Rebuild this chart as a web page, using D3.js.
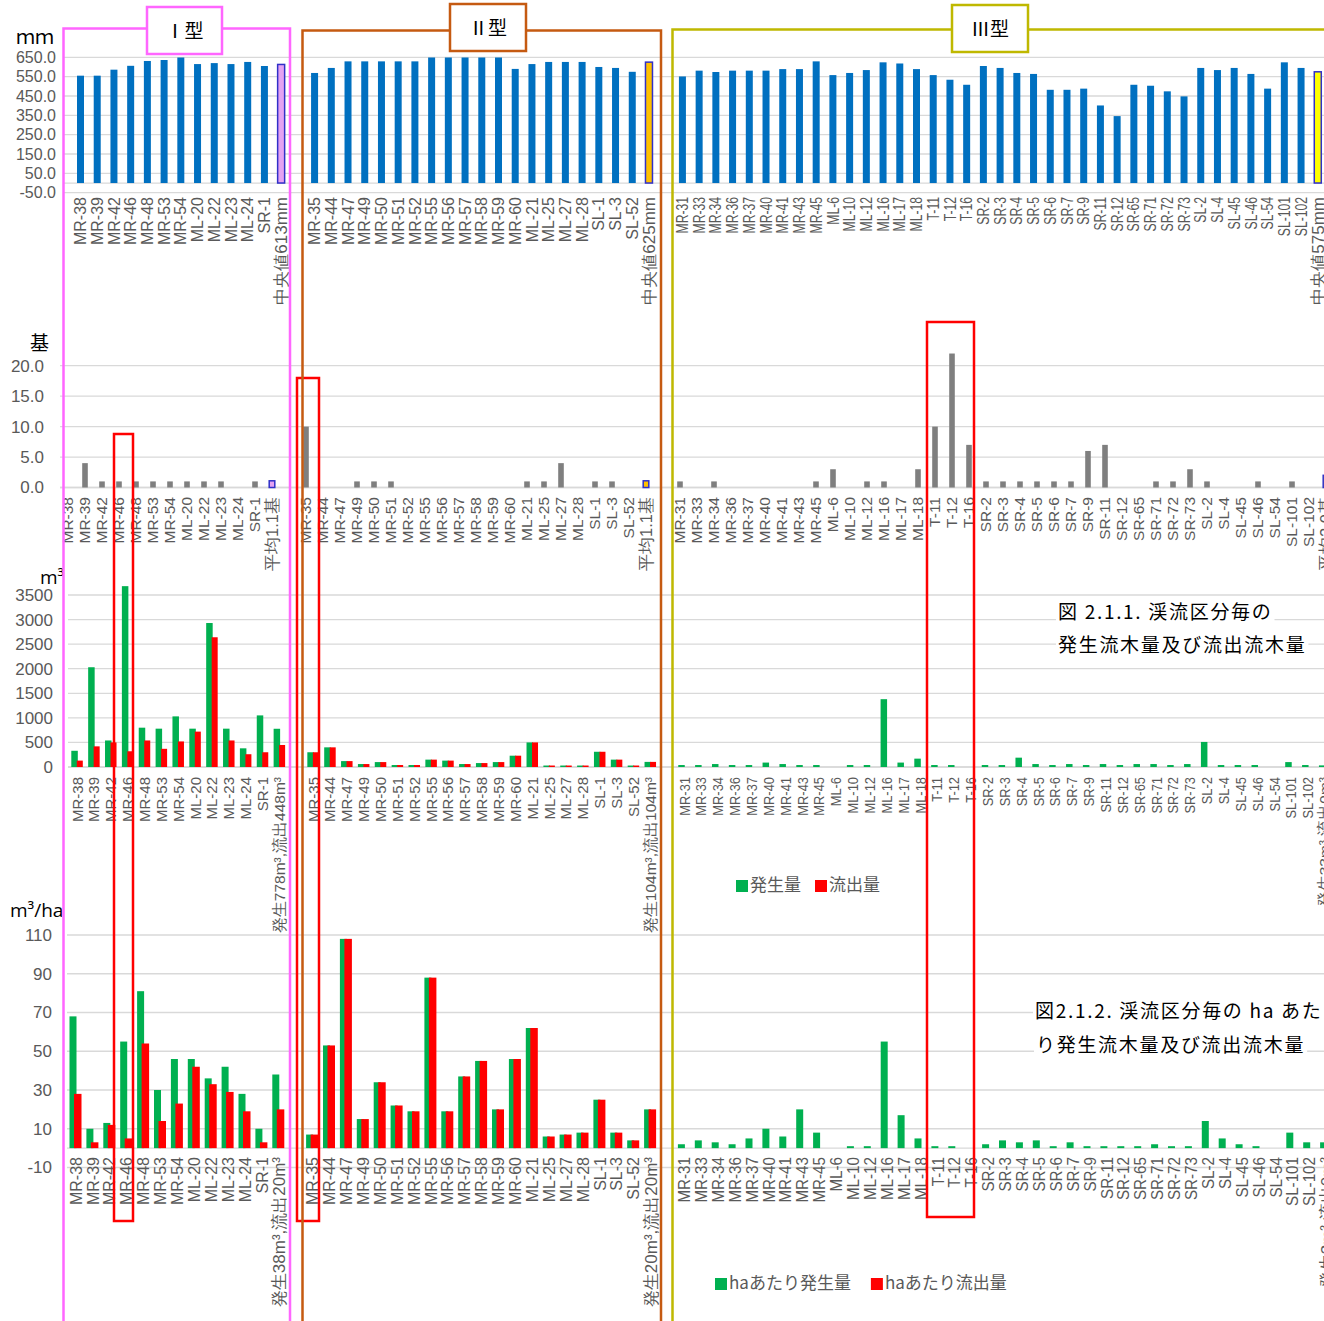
<!DOCTYPE html>
<html>
<head>
<meta charset="utf-8">
<script src="https://cdn.jsdelivr.net/npm/d3@7"></script>
<style>
  body { margin: 0; background: #fff; }
  svg { display: block; font-family: "Open Sans", "Noto Sans CJK JP", sans-serif; }
</style>
</head>
<body>
<div id="chart"></div>
<script>
// ---- categories (three stream types) ----
const typeI = ["MR-38", "MR-39", "MR-42", "MR-46", "MR-48", "MR-53", "MR-54", "ML-20", "ML-22", "ML-23", "ML-24", "SR-1"];
const typeII = ["MR-35", "MR-44", "MR-47", "MR-49", "MR-50", "MR-51", "MR-52", "MR-55", "MR-56", "MR-57", "MR-58", "MR-59", "MR-60",
  "ML-21", "ML-25", "ML-27", "ML-28", "SL-1", "SL-3", "SL-52"];
const typeIII = ["MR-31", "MR-33", "MR-34", "MR-36", "MR-37", "MR-40", "MR-41", "MR-43", "MR-45", "ML-6", "ML-10", "ML-12", "ML-16",
  "ML-17", "ML-18", "T-11", "T-12", "T-16", "SR-2", "SR-3", "SR-4", "SR-5", "SR-6", "SR-7", "SR-9", "SR-11", "SR-12", "SR-65",
  "SR-71", "SR-72", "SR-73", "SL-2", "SL-4", "SL-45", "SL-46", "SL-54", "SL-101", "SL-102"];

// ---- rainfall (mm) ----
const rainI = [555, 555, 586, 606, 631, 636, 649, 615, 620, 615, 626, 605];
const rainII = [569, 595, 629, 629, 629, 629, 629, 649, 649, 649, 649, 649, 590, 615, 626, 626, 626, 600, 595, 575];
const rainIII = [551, 581, 574, 581, 581, 581, 589, 589, 629, 558, 569, 584, 624, 618, 589, 558, 534, 508, 605, 595,
  569, 564, 482, 482, 488, 401, 346, 508, 503, 474, 448, 595, 584, 595, 564, 488, 624, 595];
const rainMedian = [613, 625, 575];
const rainLabels = ["中央値613mm", "中央値625mm", "中央値575mm"];
const rainTicks = [-50, 50, 150, 250, 350, 450, 550, 650];

// ---- count (基) ----
const countI = [0, 4, 1, 1, 1, 1, 1, 1, 1, 1, 0, 1];
const countII = [10, 0, 0, 1, 1, 1, 0, 0, 0, 0, 0, 0, 0, 1, 1, 4, 0, 1, 1, 0];
const countIII = [1, 0, 1, 0, 0, 0, 0, 0, 1, 3, 0, 1, 1, 0, 3, 10, 22, 7, 1, 1,
  1, 1, 1, 1, 6, 7, 0, 0, 1, 1, 3, 1, 0, 0, 1, 0, 1, 0];
const countAvg = [1.1, 1.1, 2.0];
const countLabels = ["平均1.1基", "平均1.1基", "平均2.0基"];
const countTicks = [0, 5, 10, 15, 20];

// ---- woody debris volume (m3): generated / discharged ----
const genI = [330, 2030, 540, 3680, 800, 780, 1030, 780, 2930, 780, 380, 1050];
const outI = [130, 420, 500, 320, 540, 370, 520, 720, 2640, 540, 260, 300];
const genII = [300, 400, 120, 60, 100, 40, 40, 150, 130, 60, 80, 100, 230, 500, 30, 30, 30, 310, 150, 30];
const outII = [300, 400, 120, 60, 100, 40, 40, 150, 130, 60, 80, 100, 230, 500, 30, 30, 30, 310, 150, 30];
const genIII = [40, 40, 60, 40, 40, 90, 60, 40, 40, 0, 40, 40, 1380, 90, 170, 40, 40, 0, 40, 40,
  190, 60, 40, 60, 40, 60, 40, 60, 60, 40, 60, 510, 40, 40, 40, 0, 100, 40];
const outIII = genIII.map(() => 0);
const volGen = [778, 104, 33];
const volOut = [448, 104, 0];
const volLabels = ["発生778m³,流出448m³", "発生104m³,流出104m³", "発生33m³,流出0m³"];
const volTicks = [0, 500, 1000, 1500, 2000, 2500, 3000, 3500];

// ---- per hectare (m3/ha) ----
const haGenI = [68, 10, 13, 55, 81, 30, 46, 46, 36, 42, 28, 10];
const haOutI = [28, 3, 12, 5, 54, 14, 23, 42, 33, 29, 19, 3];
const haGenII = [7, 53, 108, 15, 34, 22, 19, 88, 19, 37, 45, 20, 46, 62, 6, 7, 8, 25, 8, 4];
const haOutII = [7, 53, 108, 15, 34, 22, 19, 88, 19, 37, 45, 20, 46, 62, 6, 7, 8, 25, 8, 4];
const haGenIII = [2, 4, 3, 2, 5, 10, 6, 20, 8, 0, 1, 1, 55, 17, 5, 1, 1, 0, 2, 4,
  3, 4, 1, 3, 1, 1, 1, 1, 2, 1, 1, 14, 5, 2, 1, 0, 8, 3];
const haOutIII = haGenIII.map(() => 0);
const haGen = [38, 20, 3];
const haOut = [20, 20, 0];
const haLabels = ["発生38m³,流出20m³", "発生20m³,流出20m³", "発生3m³,流出0m³"];
const haTicks = [-10, 10, 30, 50, 70, 90, 110];

const W = 1324, H = 1321;
const svg = d3.select("#chart").append("svg").attr("width", W).attr("height", H);

// slots: three groups, one summary slot each, one empty slot between groups
const groups = [typeI, typeII, typeIII];
const slots = [];
groups.forEach((cats, g) => {
  cats.forEach((c, i) => slots.push({ key: g + ":" + c, g, i, sum: false }));
  slots.push({ key: g + ":sum", g, i: -1, sum: true });
  if (g < 2) slots.push({ key: "gap" + g, g: -1 });
});
const keys = slots.map(s => s.key);
const slotOf = k => slots.find(d => d.key === k);
const sumFill = ["#e4a2f2", "#ffc000", "#ffff00"];

// plain hyphen for negative tick values
const fix1 = d => d.toFixed(1);
const int0 = d => String(d);

function drawPanel(o) {
  const x = d3.scaleBand().domain(keys)
    .range([o.x0 - o.pitch / 2, o.x0 - o.pitch / 2 + keys.length * o.pitch]);
  const y = d3.scaleLinear().domain(o.domain).range(o.range);
  const cx = k => x(k) + x.bandwidth() / 2;
  const g = svg.append("g");

  // gridlines + zero line
  g.selectAll("line.grid").data(o.ticks.concat([0])).join("line")
    .attr("x1", o.gx).attr("x2", W)
    .attr("y1", d => y(d)).attr("y2", d => y(d))
    .attr("stroke", "#d9d9d9").attr("stroke-width", 1.3);

  // y axis
  const ya = g.append("g").attr("transform", `translate(${o.ax},0)`)
    .call(d3.axisLeft(y).tickValues(o.ticks).tickFormat(o.fmt).tickSize(0).tickPadding(0));
  ya.select(".domain").remove();
  ya.selectAll("text").attr("fill", "#595959").style("font-size", o.yFont + "px");

  // category labels
  const label = k => {
    const s = slotOf(k);
    if (s.g < 0) return "";
    return s.sum ? o.sumLabels[s.g] : groups[s.g][s.i];
  };
  const xa = g.append("g").attr("transform", `translate(0,${o.labelY})`)
    .call(d3.axisBottom(x).tickSize(0).tickPadding(0).tickFormat(label));
  xa.select(".domain").remove();
  xa.selectAll("text")
    .attr("x", 0).attr("y", 0).attr("dy", "0.35em")
    .attr("text-anchor", "end")
    .attr("fill", "#595959")
    .style("font-size", k => (slotOf(k).sum ? o.sumFont : o.xFont) + "px")
    .attr("transform", k => {
      const s = slotOf(k);
      const sq = (s.g === 2 && !s.sum) ? o.squeeze : 1;
      return `rotate(-90) scale(${sq},1)`;
    });

  // bars
  o.series.forEach(ser => {
    const data = slots.filter(s => s.g >= 0).map(s => ({
      s, v: s.sum ? ser.sums[s.g] : ser.values[s.g][s.i]
    })).filter(d => d.v > 0);
    g.selectAll(null).data(data).join("rect")
      .attr("x", d => cx(d.s.key) + ser.dx)
      .attr("width", ser.w)
      .attr("y", d => y(d.v))
      .attr("height", d => y(0) - y(d.v))
      .attr("fill", d => (d.s.sum && ser.sumStyle) ? sumFill[d.s.g] : ser.color)
      .attr("stroke", d => (d.s.sum && ser.sumStyle) ? "#3030c8" : "none")
      .attr("stroke-width", 1.5);
  });
}

// panel 1: rainfall
drawPanel({
  x0: 80.5, pitch: 16.72, gx: 64, ax: 56, yFont: 16, xFont: 16, sumFont: 17, squeeze: 0.76,
  domain: [-50, 650], range: [192.7, 57.3], ticks: rainTicks, fmt: fix1,
  labelY: 197, sumLabels: rainLabels,
  series: [{ values: [rainI, rainII, rainIII], sums: rainMedian, color: "#0070c0", dx: -3.5, w: 7, sumStyle: true }]
});

// panel 2: count
drawPanel({
  x0: 68, pitch: 17.0, gx: 60, ax: 44, yFont: 17, xFont: 15.5, sumFont: 16.5, squeeze: 1,
  domain: [0, 20], range: [487.5, 365.7], ticks: countTicks, fmt: fix1,
  labelY: 497, sumLabels: countLabels,
  series: [{ values: [countI, countII, countIII], sums: countAvg, color: "#7f7f7f", dx: -2.8, w: 5.6, sumStyle: true }]
});

// panel 3: volume
drawPanel({
  x0: 77.3, pitch: 16.86, gx: 68, ax: 53, yFont: 17, xFont: 15, sumFont: 15.5, squeeze: 0.86,
  domain: [0, 3500], range: [767, 595], ticks: volTicks, fmt: int0,
  labelY: 777, sumLabels: volLabels,
  series: [
    { values: [genI, genII, genIII], sums: volGen, color: "#00b050", dx: -6, w: 6.5 },
    { values: [outI, outII, outIII], sums: volOut, color: "#ff0000", dx: -0.5, w: 6 }
  ]
});

// panel 4: per hectare
drawPanel({
  x0: 76, pitch: 16.9, gx: 67, ax: 52, yFont: 17, xFont: 16, sumFont: 17, squeeze: 0.95,
  domain: [-10, 110], range: [1167.5, 935], ticks: haTicks, fmt: int0,
  labelY: 1157, sumLabels: haLabels,
  series: [
    { values: [haGenI, haGenII, haGenIII], sums: haGen, color: "#00b050", dx: -6.5, w: 7 },
    { values: [haOutI, haOutII, haOutIII], sums: haOut, color: "#ff0000", dx: -2, w: 7.5 }
  ]
});

// unit labels
const unit = (t, x, y, size) => svg.append("text").attr("x", x).attr("y", y)
  .style("font-size", size + "px").attr("fill", "#000").text(t);
unit("ｍｍ", 16, 44, 19);
unit("基", 30, 350, 19);
unit("m³", 40, 584, 19);
unit("m³/ha", 10, 917, 19);

// legends
function legend(items, x, y) {
  let cx = x;
  items.forEach(it => {
    svg.append("rect").attr("x", cx).attr("y", y - 11).attr("width", 12).attr("height", 12).attr("fill", it.color);
    const t = svg.append("text").attr("x", cx + 14).attr("y", y).attr("fill", "#595959")
      .style("font-size", "17px").style("font-family", "Noto Sans CJK JP").text(it.name);
    cx += 14 + t.node().getComputedTextLength() + it.gap;
  });
}
legend([{ name: "発生量", color: "#00b050", gap: 14 }, { name: "流出量", color: "#ff0000", gap: 0 }], 736, 891);
legend([{ name: "haあたり発生量", color: "#00b050", gap: 20 }, { name: "haあたり流出量", color: "#ff0000", gap: 0 }], 715, 1289);

// figure captions (white background)
function caption(t, x, y) {
  const txt = svg.append("text").attr("x", x).attr("y", y).attr("fill", "#000")
    .style("font-size", "19px").style("font-family", "Noto Sans CJK JP").style("letter-spacing", "1.7px").text(t);
  const b = txt.node().getBBox();
  svg.insert("rect", () => txt.node()).attr("x", b.x - 2).attr("y", b.y).attr("width", b.width + 4).attr("height", b.height).attr("fill", "#fff");
}
caption("図 2.1.1. 渓流区分毎の", 1058, 619);
caption("発生流木量及び流出流木量", 1058, 652);
caption("図2.1.2. 渓流区分毎の ha あた", 1035, 1018);
caption("り発生流木量及び流出流木量", 1036, 1052);

// red highlight boxes
const hl = [[114, 434, 19, 787], [297, 378, 22, 843], [927, 322, 47, 895]];
svg.selectAll(null).data(hl).join("rect")
  .attr("x", d => d[0]).attr("y", d => d[1]).attr("width", d => d[2]).attr("height", d => d[3])
  .attr("fill", "none").attr("stroke", "#ff0000").attr("stroke-width", 2.5);

// type frames with title boxes
const frames = [
  { name: "Ⅰ型", color: "#ff66ff", x1: 63.5, x2: 290, top: 28.5, bx: 147, by: 7, bw: 75, bh: 47 },
  { name: "Ⅱ型", color: "#c55a11", x1: 302.5, x2: 661, top: 30.5, bx: 450, by: 4, bw: 76, bh: 47 },
  { name: "Ⅲ型", color: "#bfb800", x1: 672.5, x2: 1330, top: 29.5, bx: 952, by: 5, bw: 76, bh: 47 }
];
frames.forEach(f => {
  svg.append("path")
    .attr("d", `M${f.x1},${H + 5}V${f.top}H${f.x2}V${H + 5}`)
    .attr("fill", "none").attr("stroke", f.color).attr("stroke-width", 2.5);
  svg.append("rect").attr("x", f.bx).attr("y", f.by).attr("width", f.bw).attr("height", f.bh)
    .attr("fill", "#fff").attr("stroke", f.color).attr("stroke-width", 2.5);
  svg.append("text").attr("x", f.bx + f.bw / 2).attr("y", f.by + f.bh / 2 + 7)
    .attr("text-anchor", "middle").style("font-size", "19px").style("font-family", "Noto Sans CJK JP")
    .attr("fill", "#000").text(f.name);
});
</script>
</body>
</html>
